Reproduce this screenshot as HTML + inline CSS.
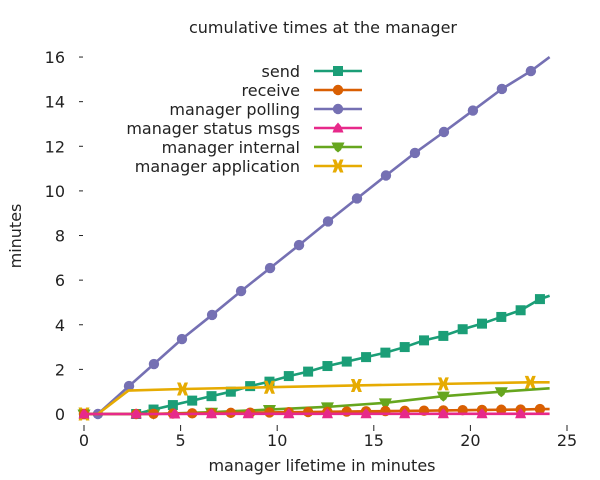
<!DOCTYPE html>
<html><head><meta charset="utf-8"><style>
body{margin:0;background:#fff}
svg{display:block;font-family:"DejaVu Sans","Liberation Sans",sans-serif}
</style></head><body>
<svg id="chart" width="600" height="480">
<text x="323" y="33" font-size="16" text-anchor="middle" fill="#222">cumulative times at the manager</text>
<text transform="translate(21,236) rotate(-90)" font-size="16" text-anchor="middle" fill="#222">minutes</text>
<text x="322" y="471" font-size="16" text-anchor="middle" fill="#222">manager lifetime in minutes</text>
<g id="axes"></g><g id="series"></g><g id="legend"></g>
</svg>
<script>
const xTicks=[0,5,10,15,20,25];
const yTicks=[0,2,4,6,8,10,12,14,16];
const seriesNames=["send","receive","manager polling","manager status msgs","manager internal","manager application"];
const pollX=[0,0.72,2.33,3.62,5.07,6.63,8.13,9.63,11.13,12.63,14.13,15.63,17.13,18.63,20.13,21.63,23.13,24.1];
const pollY=[0,0,1.25,2.24,3.36,4.44,5.51,6.54,7.57,8.63,9.66,10.69,11.7,12.64,13.6,14.57,15.37,16.0];
const sendX=[0,0.72,2.7,3.6,4.6,5.6,6.6,7.6,8.6,9.6,10.6,11.6,12.6,13.6,14.6,15.6,16.6,17.6,18.6,19.6,20.6,21.6,22.6,23.6,24.1];
const sendY=[0,0,0,0.2,0.4,0.6,0.8,1.0,1.25,1.45,1.7,1.9,2.15,2.35,2.55,2.75,3.0,3.3,3.5,3.8,4.05,4.35,4.65,5.15,5.3];
const recvX=[0,0.72,2.7,3.6,4.6,5.6,6.6,7.6,8.6,9.6,10.6,11.6,12.6,13.6,14.6,15.6,16.6,17.6,18.6,19.6,20.6,21.6,22.6,23.6,24.1];
const recvY=[0,0,0,0.01,0.02,0.03,0.04,0.05,0.06,0.07,0.08,0.09,0.1,0.11,0.12,0.13,0.14,0.15,0.16,0.17,0.18,0.19,0.2,0.22,0.22];
const statX=[0,0.72,2.7,4.7,6.6,8.5,10.6,12.6,14.6,16.6,18.6,20.6,22.6,24.1];
const statY=[0,0,0,0,0.01,0.01,0.01,0.01,0.01,0.01,0.01,0.01,0.01,0.01];
const intX=[0,0.72,3.6,6.6,9.6,12.6,15.6,18.6,21.6,24.1];
const intY=[0,0,0,0.08,0.2,0.32,0.5,0.8,1.0,1.15];
const appX=[0,0.72,2.3,5.1,9.6,14.1,18.6,23.1,24.1];
const appY=[0,0,1.05,1.12,1.2,1.28,1.35,1.42,1.42];
const markEvery=[[0,2,3,4,5,6,7,8,9,10,11,12,13,14,15,16,17,18,19,20,21,22,23],[0,2,3,4,5,6,7,8,9,10,11,12,13,14,15,16,17,18,19,20,21,22,23],[0,1,2,3,4,5,6,7,8,9,10,11,12,13,14,15,16],[0,2,3,4,5,6,7,8,9,10,11,12],[0,2,3,4,5,6,7,8],[0,3,4,5,6,7]];
const colors=["#1b9e77","#d95f02","#7570b3","#e7298a","#66a61e","#e6ab02"];
const shapes=["square","circle","circle","triangle","tri-down","bowtie"];

const NS="http://www.w3.org/2000/svg";
const sx=v=>84+v*19.32, sy=v=>414-v*22.31;
function mk(tag,attrs,parent){const e=document.createElementNS(NS,tag);for(const k in attrs)e.setAttribute(k,attrs[k]);parent.appendChild(e);return e;}
const axes=document.getElementById('axes');
xTicks.forEach(t=>{
  const l=mk('line',{x1:sx(t),x2:sx(t),y1:425,y2:431,stroke:'#222'},axes);
  
  
  const tx=mk('text',{x:sx(t),y:446,'font-size':16,'text-anchor':'middle',fill:'#222'},axes);tx.textContent=t;
  
  
});
yTicks.forEach(t=>{
  const l=mk('line',{x1:79,x2:83,y1:sy(t),y2:sy(t),stroke:'#222'},axes);
  
  
  const tx=mk('text',{x:65,y:sy(t)+6,'font-size':16,'text-anchor':'end',fill:'#222'},axes);tx.textContent=t;
  
  
});
function marker(shape,x,y,c,g){
  let e;
  if(shape==='square')e=mk('rect',{x:x-5,y:y-5,width:10,height:10,fill:c},g);
  else if(shape==='circle')e=mk('circle',{cx:x,cy:y,r:5.2,fill:c},g);
  else if(shape==='triangle')e=mk('polygon',{points:`${x-5.5},${y+4.5} ${x+5.5},${y+4.5} ${x+3},${y-2} ${x},${y-5.5} ${x-3},${y-2}`,fill:c},g);
  else if(shape==='tri-down')e=mk('polygon',{points:`${x-6.5},${y-4.5} ${x+6.5},${y-4.5} ${x+3},${y+3} ${x},${y+5.5} ${x-3},${y+3}`,fill:c},g);
  else e=mk('polygon',{points:`${x-5.5},${y-6.5} ${x-2},${y-6.5} ${x},${y-2} ${x+2},${y-6.5} ${x+5.5},${y-6.5} ${x+3},${y} ${x+5.5},${y+6.5} ${x+2},${y+6.5} ${x},${y+2} ${x-2},${y+6.5} ${x-5.5},${y+6.5} ${x-3},${y}`,fill:c},g);
  return e;
}
const data=[[sendX,sendY],[recvX,recvY],[pollX,pollY],[statX,statY],[intX,intY],[appX,appY]];
const order=[2,0,5,4,1,3];
const sg=document.getElementById('series');
order.forEach(i=>{
  const g=mk('g',{},sg);
  
  
  const [X,Y]=data[i];
  const p=mk('polyline',{points:X.map((x,j)=>sx(x)+','+sy(Y[j])).join(' '),fill:'none',stroke:colors[i],'stroke-width':2.6},g);
  
  
  markEvery[i].forEach(j=>{if(j<X.length){const m=marker(shapes[i],sx(X[j]),sy(Y[j]),colors[i],g);
    
    }});
});
const lg=document.getElementById('legend');


seriesNames.forEach((n,i)=>{
  const y=71+i*19;
  const g=mk('g',{},lg);
  
  
  const t=mk('text',{x:300,y:y+6,'font-size':16,'text-anchor':'end',fill:'#222'},g);t.textContent=n;
  mk('line',{x1:314,x2:362,y1:y,y2:y,stroke:colors[i],'stroke-width':2.6},g);
  marker(shapes[i],338,y,colors[i],g);
});
</script>
</body></html>
